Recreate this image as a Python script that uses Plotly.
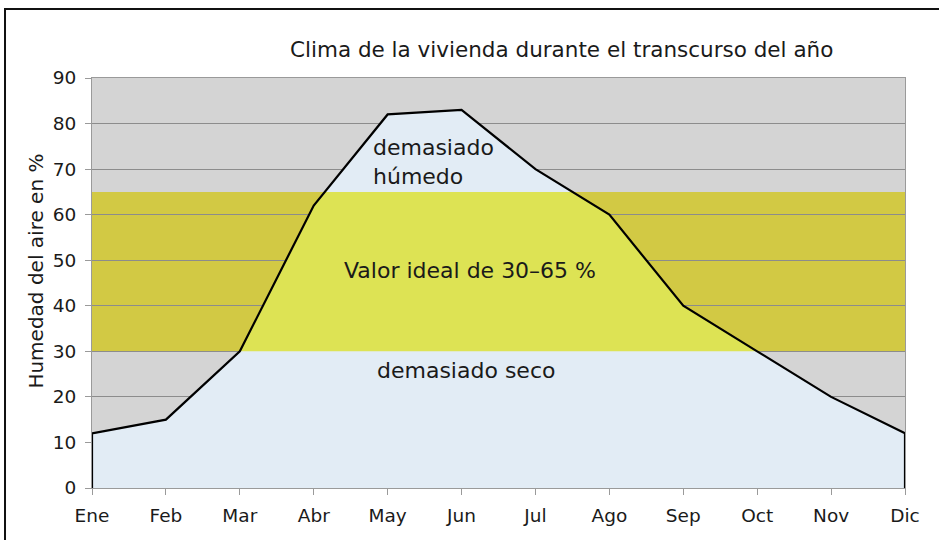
import plotly.graph_objects as go

months = ["Ene", "Feb", "Mar", "Abr", "May", "Jun", "Jul", "Ago", "Sep", "Oct", "Nov", "Dic"]
humidity = [12, 15, 30, 62, 82, 83, 70, 60, 40, 30, 20, 12]
ideal_low, ideal_high = 30, 65
y_ticks = [0, 10, 20, 30, 40, 50, 60, 70, 80, 90]

GRAY = "#d4d4d4"
DARK_YELLOW = "#d2c944"
BRIGHT_YELLOW = "#dde354"
LIGHT_BLUE = "#e2ecf5"
FONT = "DejaVu Sans"

xs = list(range(len(months)))
n = len(months) - 1
ymax = y_ticks[-1]

fig = go.Figure()

# light blue area under the curve (main subplot)
fig.add_trace(go.Scatter(x=xs, y=humidity, mode="none", fill="tozeroy",
                         fillcolor=LIGHT_BLUE, hoverinfo="skip", showlegend=False,
                         xaxis="x", yaxis="y"))
# bright yellow: same area, clipped to the ideal band subplot
fig.add_trace(go.Scatter(x=xs, y=humidity, mode="none", fill="tozeroy",
                         fillcolor=BRIGHT_YELLOW, hoverinfo="skip", showlegend=False,
                         xaxis="x2", yaxis="y2"))
# outline on top
fig.add_trace(go.Scatter(x=[xs[0]] + xs + [xs[-1]], y=[0] + humidity + [0],
                         mode="lines", line=dict(color="black", width=2.2),
                         hoverinfo="skip", showlegend=False,
                         xaxis="x3", yaxis="y3"))

axis_gray = "#9a9a9a"
fig.update_layout(
    width=939, height=540,
    margin=dict(l=92, r=34, t=78, b=52),
    paper_bgcolor="white",
    plot_bgcolor="rgba(0,0,0,0)",
    font=dict(family=FONT, size=18.5, color="#1a1a1a"),
    xaxis=dict(domain=[0, 1], range=[0, n], tickvals=xs, ticktext=months,
               showgrid=False, zeroline=False, showline=True, linecolor=axis_gray,
               linewidth=1, mirror=True, ticks="outside", ticklen=6, tickcolor=axis_gray,
               ticklabelstandoff=5, anchor="y"),
    yaxis=dict(domain=[0, 1], range=[0, ymax], tickvals=y_ticks,
               showgrid=True, gridcolor="#8c8c8c", gridwidth=1, zeroline=False,
               showline=True, linecolor=axis_gray, linewidth=1, mirror=True,
               ticks="outside", ticklen=6, tickcolor=axis_gray, ticklabelstandoff=5,
               anchor="x"),
    xaxis2=dict(domain=[0, 1], range=[0, n], visible=False, anchor="y2"),
    yaxis2=dict(domain=[ideal_low / ymax, ideal_high / ymax], range=[ideal_low, ideal_high],
                visible=False, anchor="x2"),
    xaxis3=dict(domain=[0, 1], range=[0, n], visible=False, anchor="y3"),
    yaxis3=dict(domain=[0, 1], range=[0, ymax], visible=False, anchor="x3"),
    shapes=[
        dict(type="rect", xref="x", yref="y", x0=0, x1=n, y0=0, y1=ymax,
             fillcolor=GRAY, line=dict(width=0), layer="below"),
        dict(type="rect", xref="x", yref="y", x0=0, x1=n, y0=ideal_low, y1=ideal_high,
             fillcolor=DARK_YELLOW, line=dict(width=0), layer="below"),
        dict(type="rect", xref="paper", yref="paper", x0=-0.107, x1=1.06, y0=-0.15, y1=1.168,
             line=dict(color="#111111", width=2), fillcolor="rgba(0,0,0,0)", layer="above"),
    ],
    annotations=[
        dict(text="Clima de la vivienda durante el transcurso del año", xref="paper", yref="paper",
             x=0.577, y=1.105, showarrow=False, font=dict(size=21.5)),
        dict(text="Humedad del aire en %", xref="paper", yref="paper", x=-0.069, y=0.53,
             xanchor="center", yanchor="middle",
             textangle=-90, showarrow=False, font=dict(size=20)),
        dict(text="demasiado<br>húmedo", xref="x", yref="y", x=3.77, y=71.5, xanchor="left",
             align="left", showarrow=False, font=dict(size=22)),
        dict(text="Valor ideal de 30–65 %", xref="x", yref="y", x=5.11, y=47.8,
             showarrow=False, font=dict(size=22)),
        dict(text="demasiado seco", xref="x", yref="y", x=5.06, y=25.7,
             showarrow=False, font=dict(size=22)),
    ],
)

fig.write_html("out.html", config={"displayModeBar": False},
               post_script="document.body.style.margin='0';")
